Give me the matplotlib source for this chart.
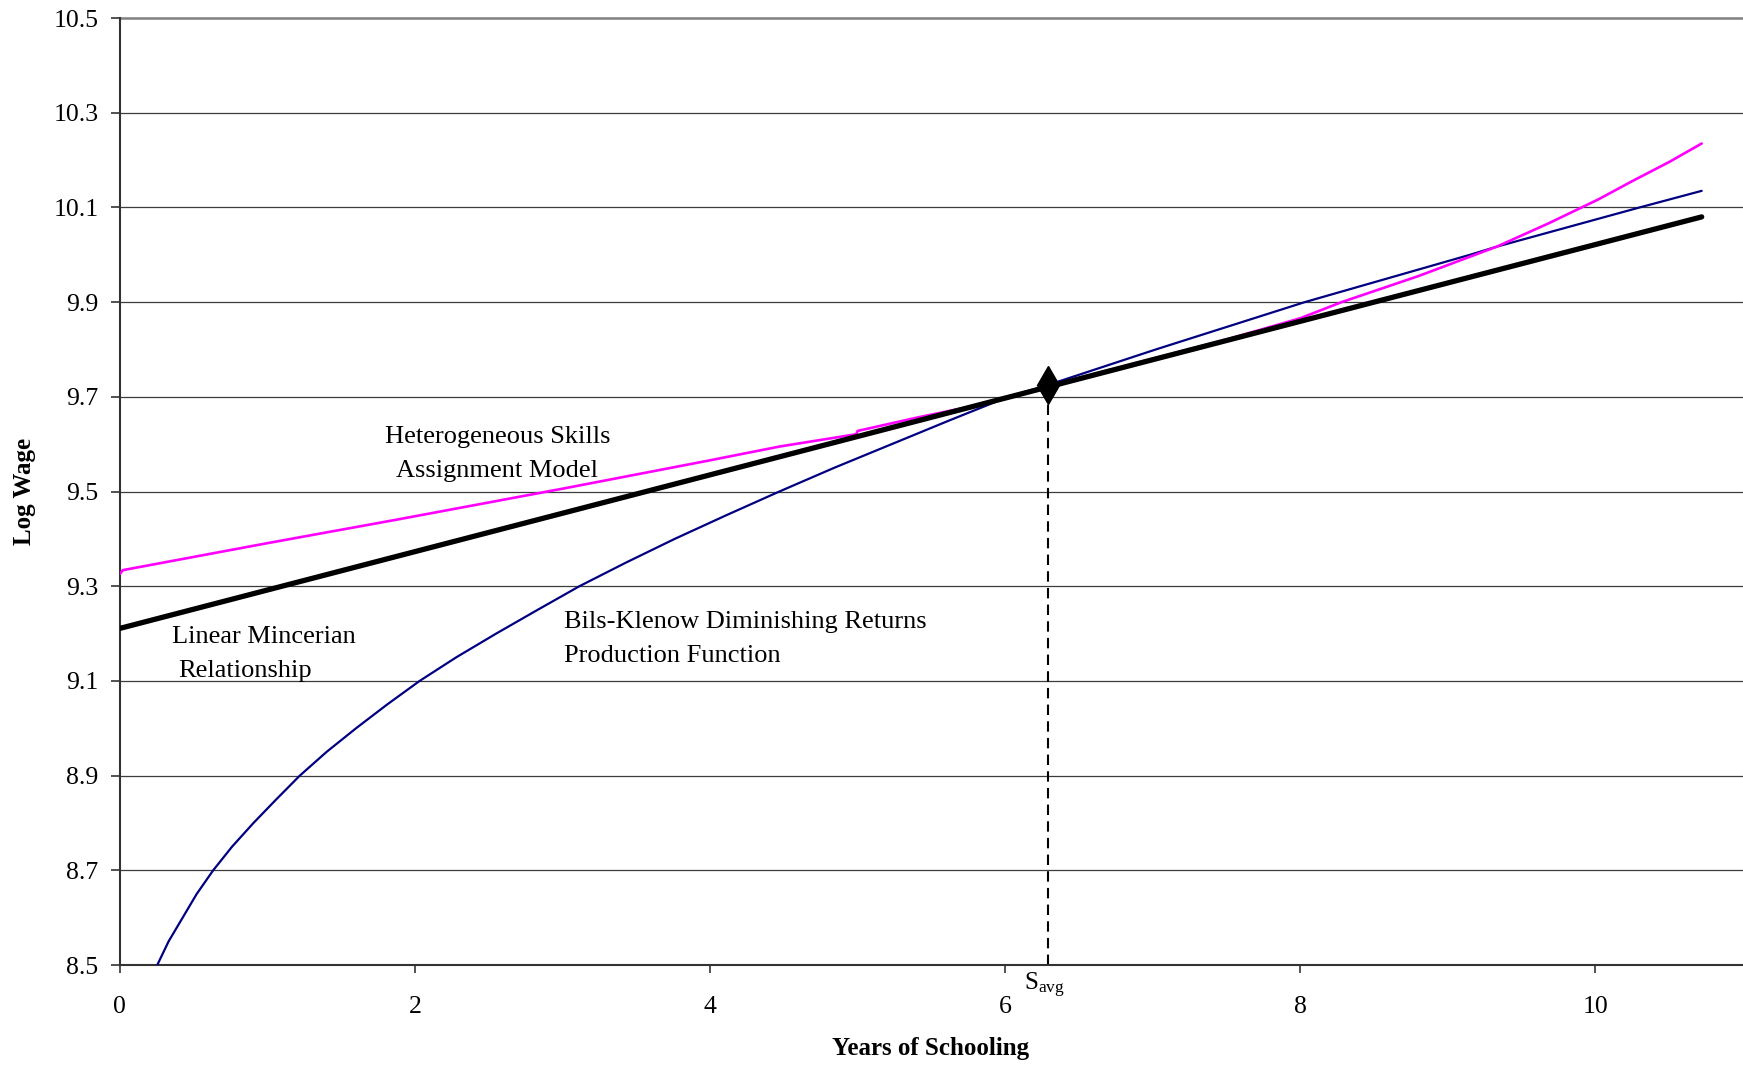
import matplotlib
matplotlib.use("Agg")
import matplotlib.pyplot as plt

# serif font like the original (Times look-alike)
plt.rcParams['font.family'] = ['Liberation Serif', 'DejaVu Serif']
plt.rcParams['mathtext.fontset'] = 'custom'
plt.rcParams['mathtext.rm'] = 'Liberation Serif'

# --- data ---
# linear Mincerian relationship (straight line)
minc_x = [0.0, 10.72]
minc_y = [9.211, 10.080]

# heterogeneous skills assignment model (pink)
skill_x = [0.0, 0.02, 1.0, 1.9, 3.0, 4.0, 4.47, 4.99, 5.0, 5.4, 5.82, 6.28,
           6.8, 7.5, 8.0, 8.28, 8.8, 9.33, 9.68, 10.02, 10.24, 10.5, 10.72]
skill_y = [9.326, 9.334, 9.391, 9.442, 9.506, 9.566, 9.595, 9.621, 9.628, 9.656,
           9.683, 9.722, 9.764, 9.821, 9.866, 9.900, 9.955, 10.017, 10.066,
           10.117, 10.154, 10.196, 10.235]

# Bils-Klenow diminishing returns production function (navy)
bk_x = [0.253, 0.33, 0.425, 0.52, 0.632, 0.76, 0.905, 1.06, 1.219, 1.40, 1.60,
        1.81, 2.031, 2.28, 2.55, 2.83, 3.114, 3.43, 3.76, 4.11, 4.469, 4.84,
        5.23, 5.62, 6.02, 6.28, 7.02, 8.03, 9.15, 9.33, 10.30, 10.72]
bk_y = [8.500, 8.550, 8.600, 8.650, 8.700, 8.750, 8.800, 8.850, 8.900, 8.950,
        9.000, 9.050, 9.100, 9.150, 9.200, 9.250, 9.300, 9.350, 9.400, 9.450,
        9.500, 9.550, 9.600, 9.650, 9.700, 9.724, 9.800, 9.900, 10.000, 10.017,
        10.100, 10.135]

s_avg = 6.29
w_avg = 9.724

xticks = [0, 2, 4, 6, 8, 10]
yticks = [8.5, 8.7, 8.9, 9.1, 9.3, 9.5, 9.7, 9.9, 10.1, 10.3, 10.5]

fig = plt.figure(figsize=(17.43, 10.66), dpi=100)
ax = fig.add_axes([0.0688, 0.0947, 0.9312, 0.8884])

# horizontal grid lines
for yv in yticks[1:-1]:
    ax.axhline(yv, color='#3c3c3c', lw=0.9, zorder=1)
ax.axhline(10.5, color='#808080', lw=1.8, zorder=1, clip_on=False)

ax.plot(bk_x, bk_y, color='#000080', lw=1.6, zorder=3, solid_capstyle='round')
ax.plot(skill_x, skill_y, color='#ff00ff', lw=1.9, zorder=3, solid_capstyle='round')
ax.plot(minc_x, minc_y, color='black', lw=3.8, zorder=4, solid_capstyle='round')

# average schooling marker and dashed drop line
ax.plot([s_avg, s_avg], [8.5, w_avg], color='black', lw=1.5,
        linestyle=(0, (5, 3)), zorder=2)
ax.plot([s_avg], [w_avg], marker='d', color='black', markersize=19, zorder=5)

ax.set_xlim(0, 11)
ax.set_ylim(8.5, 10.5)
ax.set_xticks(xticks)
ax.set_yticks(yticks)
ax.set_xticklabels([str(v) for v in xticks])
ax.set_yticklabels(['%.1f' % v for v in yticks])
ax.tick_params(axis='x', length=6, width=1.2, color='#333333', pad=16, labelsize=18.5)
ax.tick_params(axis='y', length=6.5, width=1.2, color='#333333', pad=9, labelsize=18.5)

for side in ['top', 'right']:
    ax.spines[side].set_visible(False)
ax.spines['left'].set_color('#333333')
ax.spines['left'].set_linewidth(1.5)
ax.spines['bottom'].set_color('#333333')
ax.spines['bottom'].set_linewidth(1.5)

# curve labels
fs = 19
ax.text(1.794, 9.602, 'Heterogeneous Skills', fontsize=fs, va='baseline')
ax.text(1.873, 9.531, 'Assignment Model', fontsize=fs, va='baseline')
ax.text(0.35, 9.181, 'Linear Mincerian', fontsize=fs, va='baseline')
ax.text(0.395, 9.109, 'Relationship', fontsize=fs, va='baseline')
ax.text(3.013, 9.211, 'Bils-Klenow Diminishing Returns', fontsize=fs, va='baseline')
ax.text(3.013, 9.139, 'Production Function', fontsize=fs, va='baseline')
ax.text(6.13, 8.487, r'$\mathregular{S_{avg}}$', fontsize=18, va='top', ha='left',
        clip_on=False)

fig.text(0.534, 1 - 1049 / 1066, 'Years of Schooling', fontsize=18,
         fontweight='bold', ha='center', va='center')
fig.text(0.014, 1 - 491 / 1066, 'Log Wage', fontsize=18, fontweight='bold',
         rotation=90, ha='center', va='center')

fig.savefig('out.png', dpi=100)
